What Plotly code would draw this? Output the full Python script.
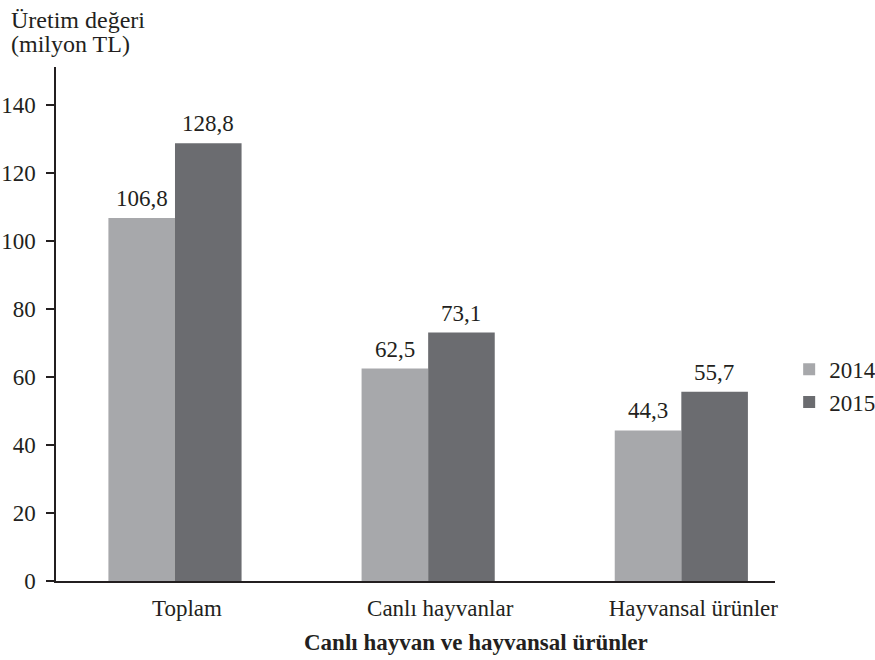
import plotly.graph_objects as go

categories = ["Toplam", "Canlı hayvanlar", "Hayvansal ürünler"]
values_2014 = [106.8, 62.5, 44.3]
values_2015 = [128.8, 73.1, 55.7]
labels_2014 = ["106,8", "62,5", "44,3"]
labels_2015 = ["128,8", "73,1", "55,7"]
tick_vals = [0, 20, 40, 60, 80, 100, 120, 140]
y_title_lines = ["Üretim değeri", "(milyon TL)"]
x_title = "Canlı hayvan ve hayvansal ürünler"

FONT = "Liberation Serif"
TXT = "#231f20"
FS = 23

fig = go.Figure()
fig.add_trace(go.Bar(x=categories, y=values_2014, name="2014", marker_color="#a7a8ab",
                     marker_line_width=0))
fig.add_trace(go.Bar(x=categories, y=values_2015, name="2015", marker_color="#6b6c70",
                     marker_line_width=0))

annotations = []
for cat, v, lab in zip(categories, values_2014, labels_2014):
    annotations.append(dict(x=cat, y=v, text=lab, xref="x", yref="y", showarrow=False,
                            xanchor="center", yanchor="bottom", xshift=-33, yshift=5,
                            font=dict(size=FS, family=FONT, color=TXT)))
for cat, v, lab in zip(categories, values_2015, labels_2015):
    annotations.append(dict(x=cat, y=v, text=lab, xref="x", yref="y", showarrow=False,
                            xanchor="center", yanchor="bottom", xshift=33, yshift=5,
                            font=dict(size=FS, family=FONT, color=TXT)))
# y-axis title (two lines)
annotations.append(dict(text=y_title_lines[0], xref="paper", yref="paper",
                        x=-47/719, y=1 + (67-20)/514, xanchor="left", yanchor="middle",
                        showarrow=False, font=dict(size=24, family=FONT, color=TXT)))
annotations.append(dict(text=y_title_lines[1], xref="paper", yref="paper",
                        x=-47/719, y=1 + (67-44)/514, xanchor="left", yanchor="middle",
                        showarrow=False, font=dict(size=24, family=FONT, color=TXT)))
# x-axis title
annotations.append(dict(text="<b>" + x_title + "</b>", xref="paper", yref="paper",
                        x=(476-56)/719, y=-(642-581)/514, xanchor="center", yanchor="middle",
                        showarrow=False, font=dict(size=FS, family=FONT, color=TXT)))

fig.update_layout(
    width=875, height=660,
    margin=dict(l=56, r=100, t=67, b=79, autoexpand=False),
    paper_bgcolor="white", plot_bgcolor="white",
    barmode="group", bargap=0.474, bargroupgap=0,
    font=dict(family=FONT, size=FS, color=TXT),
    showlegend=True,
    legend=dict(x=1.0197, y=0.38, xanchor="left", yanchor="middle",
                font=dict(size=FS, family=FONT, color=TXT),
                bgcolor="rgba(0,0,0,0)", tracegroupgap=0, itemwidth=30),
    xaxis=dict(range=[-0.47, 2.37], showline=True, linecolor=TXT, linewidth=1.5,
               ticklabelstandoff=6, ticklabelshift=12,
               ticks="", showgrid=False, zeroline=False, automargin=False,
               tickfont=dict(size=FS, family=FONT, color=TXT)),
    yaxis=dict(range=[0, 151.2], tickvals=tick_vals, showline=True, linecolor=TXT,
               linewidth=1.5, ticks="outside", ticklen=8, tickcolor=TXT, tickwidth=1.5,
               ticklabelstandoff=6,
               showgrid=False, zeroline=False, automargin=False,
               tickfont=dict(size=FS, family=FONT, color=TXT)),
    annotations=annotations,
)

fig.write_html("out.html", config={"displayModeBar": False},
               post_script="document.body.style.margin='0';document.body.style.overflow='hidden';")
